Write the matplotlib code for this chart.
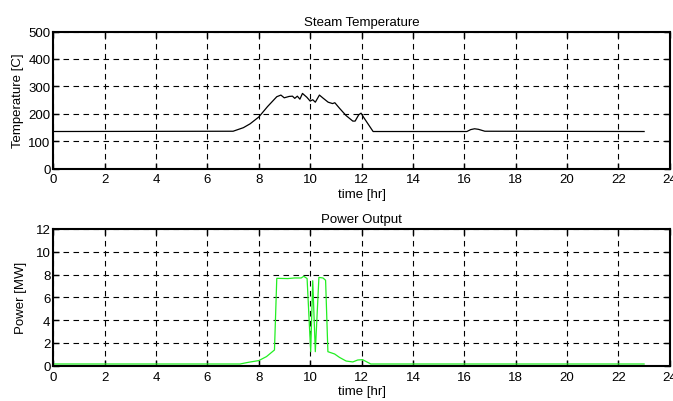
import matplotlib
matplotlib.use("Agg")
import matplotlib.pyplot as plt

plt.rcParams['font.family'] = ['Liberation Sans', 'DejaVu Sans']

# steam temperature [C] vs time [hr]
t_temp = [0, 7.0, 7.4, 7.66, 8.0, 8.34, 8.70, 8.86, 8.99, 9.18, 9.31, 9.40, 9.5,
          9.6, 9.70, 9.87, 10.0, 10.1, 10.2, 10.36, 10.5, 10.7, 10.87, 10.96,
          11.15, 11.4, 11.66, 11.75, 11.89, 11.98, 12.1, 12.45, 16.1, 16.25,
          16.4, 16.55, 16.8, 23.0]
temp = [135, 136, 149, 163, 188, 226, 262, 268, 258, 263, 264, 256, 264,
        253, 274, 260, 246, 251, 242, 268, 257, 242, 237, 240,
        219, 193, 173, 173, 196, 202, 184, 135, 135, 142,
        145, 143, 136, 135]

# power output [MW] vs time [hr]
t_pow = [0, 7.27, 7.6, 8.0, 8.3, 8.61, 8.70, 9.13, 9.39, 9.65, 9.75, 9.88,
         10.02, 10.1, 10.2, 10.34, 10.5, 10.6, 10.69, 10.95, 11.14, 11.4,
         11.66, 11.85, 12.04, 12.36, 23.0]
power = [0.15, 0.15, 0.3, 0.45, 0.8, 1.38, 7.67, 7.65, 7.7, 7.7, 7.85, 7.65,
         1.23, 7.46, 1.23, 7.75, 7.7, 7.5, 1.23, 1.03, 0.73, 0.41,
         0.33, 0.5, 0.53, 0.15, 0.15]

W, H = 673, 402
fig = plt.figure(figsize=(W / 100, H / 100), dpi=100)
ax1 = fig.add_axes([53.3 / W, 1 - 169.5 / H, 616.5 / W, 137 / H])
ax2 = fig.add_axes([53.3 / W, 1 - 366.7 / H, 616.5 / W, 136.7 / H])

fs = 9.5

def style(ax, ylim, yticks):
    ax.set_xlim(0, 24)
    ax.set_ylim(*ylim)
    ax.set_xticks(range(0, 25, 2))
    ax.set_yticks(yticks)
    ax.grid(True, color='k', linestyle=(0, (5, 4)), linewidth=0.8)
    ax.tick_params(direction='in', top=True, right=True, length=4,
                   width=1, labelsize=fs)
    ax.tick_params(axis='x', pad=3.5)
    ax.tick_params(axis='y', pad=2)
    for s in ax.spines.values():
        s.set_linewidth(1.5)

ax1.plot(t_temp, temp, color='k', linewidth=0.9)
style(ax1, (0, 500), range(0, 501, 100))
ax1.set_title('Steam Temperature', fontsize=fs, pad=5)
ax1.set_xlabel('time [hr]', fontsize=fs, labelpad=2)
ax1.set_ylabel('Temperature [C]', fontsize=fs, labelpad=3)

ax2.plot(t_pow, power, color='#22ee22', linewidth=0.9)
style(ax2, (0, 12), range(0, 13, 2))
ax2.set_title('Power Output', fontsize=fs, pad=5)
ax2.set_xlabel('time [hr]', fontsize=fs, labelpad=2)
ax2.set_ylabel('Power [MW]', fontsize=fs, labelpad=6)

fig.savefig('out.png', dpi=100)
